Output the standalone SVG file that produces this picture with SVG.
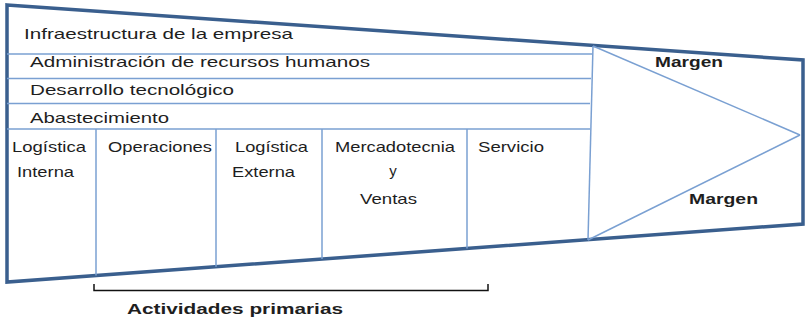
<svg xmlns="http://www.w3.org/2000/svg" width="805" height="326" viewBox="0 0 805 326">
<style>
.outer{fill:none;stroke:#3a5f8e;stroke-width:3.5;stroke-linejoin:miter}
.inner{fill:none;stroke:#7aa0d2;stroke-width:1.5}
.lbl{font-family:"Liberation Sans",Arial,sans-serif;font-size:15px;fill:#1e1e1e}
.b{font-weight:bold}
.brk{fill:none;stroke:#111;stroke-width:1.5}
</style>
<rect width="805" height="326" fill="#fff"/>
<g id="frame">
<polygon class="outer" points="7,5 803,60 803,224 7,282"/>
</g>
<g id="connectors">
<line class="inner" x1="7" y1="54" x2="592" y2="54"/>
<line class="inner" x1="7" y1="78.5" x2="591" y2="78.5"/>
<line class="inner" x1="7" y1="103.5" x2="590" y2="103.5"/>
<line class="inner" x1="7" y1="129" x2="590" y2="129"/>
<line class="inner" x1="593" y1="46" x2="588" y2="240"/>
<line class="inner" x1="593" y1="46" x2="800" y2="135"/>
<line class="inner" x1="800" y1="135" x2="588" y2="240"/>
<line class="inner" x1="96" y1="129" x2="96" y2="275.5"/>
<line class="inner" x1="216" y1="129" x2="216" y2="266.8"/>
<line class="inner" x1="322" y1="129" x2="322" y2="259"/>
<line class="inner" x1="467" y1="129" x2="467" y2="248.5"/>
<path class="brk" d="M94,284 V290.5 H488 V284"/>
</g>
<g id="infraestructura"><text class="lbl" x="24" y="38.5" textLength="269" lengthAdjust="spacingAndGlyphs">Infraestructura de la empresa</text></g>
<g id="rrhh"><text class="lbl" x="30" y="66.5" textLength="340" lengthAdjust="spacingAndGlyphs">Administración de recursos humanos</text></g>
<g id="desarrollo"><text class="lbl" x="30" y="94.5" textLength="204" lengthAdjust="spacingAndGlyphs">Desarrollo tecnológico</text></g>
<g id="abastecimiento"><text class="lbl" x="30" y="123" textLength="139" lengthAdjust="spacingAndGlyphs">Abastecimiento</text></g>
<g id="logistica-interna">
<text class="lbl" x="12" y="151.5" textLength="74" lengthAdjust="spacingAndGlyphs">Logística</text>
<text class="lbl" x="17" y="176.5" textLength="57" lengthAdjust="spacingAndGlyphs">Interna</text>
</g>
<g id="operaciones"><text class="lbl" x="108" y="151.5" textLength="104" lengthAdjust="spacingAndGlyphs">Operaciones</text></g>
<g id="logistica-externa">
<text class="lbl" x="235" y="151.5" textLength="73" lengthAdjust="spacingAndGlyphs">Logística</text>
<text class="lbl" x="232" y="176.5" textLength="63" lengthAdjust="spacingAndGlyphs">Externa</text>
</g>
<g id="mercadotecnia">
<text class="lbl" x="335" y="151.5" textLength="120" lengthAdjust="spacingAndGlyphs">Mercadotecnia</text>
<text class="lbl" x="393" y="176" text-anchor="middle">y</text>
<text class="lbl" x="360" y="204" textLength="57" lengthAdjust="spacingAndGlyphs">Ventas</text>
</g>
<g id="servicio"><text class="lbl" x="478" y="151.5" textLength="66" lengthAdjust="spacingAndGlyphs">Servicio</text></g>
<g id="margen-top"><text class="lbl b" x="655" y="67" textLength="68" lengthAdjust="spacingAndGlyphs">Margen</text></g>
<g id="margen-bottom"><text class="lbl b" x="689" y="204" textLength="69" lengthAdjust="spacingAndGlyphs">Margen</text></g>
<g id="actividades"><text class="lbl b" x="127" y="314" textLength="216" lengthAdjust="spacingAndGlyphs">Actividades primarias</text></g>
</svg>
